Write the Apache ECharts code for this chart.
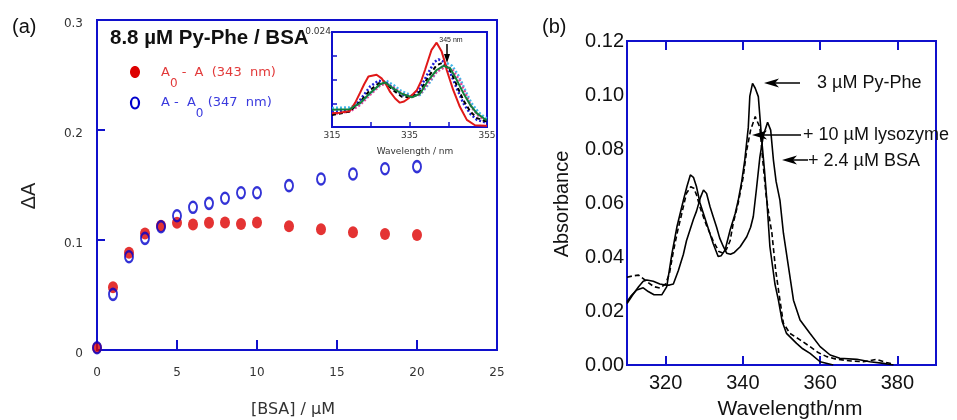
<!DOCTYPE html>
<html>
<head>
<meta charset="utf-8">
<script src="https://cdn.jsdelivr.net/npm/echarts@6.0.0/dist/echarts.min.js"></script>
<style>
html,body{margin:0;padding:0;background:#fff;}
#c{width:957px;height:420px;}
</style>
</head>
<body>
<div id="c"></div>
<script>
// ---------- Panel (a): titration data ----------
const bsaConc = [0, 1, 2, 3, 4, 5, 6, 7, 8, 9, 10, 12, 14, 16, 18, 20];
const dA343 = [0.002, 0.057, 0.0885, 0.106, 0.113, 0.1157, 0.114, 0.1157, 0.116, 0.1145, 0.116, 0.1124, 0.1097, 0.107, 0.1055, 0.1045];
const dA347 = [0.002, 0.0506, 0.0848, 0.1015, 0.112, 0.122, 0.1297, 0.1333, 0.1379, 0.143, 0.143, 0.1494, 0.1555, 0.16, 0.1648, 0.1667];
const aXTicks = [0, 5, 10, 15, 20, 25];

// ---------- Inset spectra (wavelength nm, absorbance) ----------
const insetRed = [[315,0.0103],[317,0.0104],[319.6,0.0107],[321,0.0121],[322.2,0.0137],[323.3,0.0152],[324.4,0.0165],[326.5,0.0168],[327.8,0.0162],[329,0.0151],[330,0.0139],[331.3,0.0128],[332.5,0.0121],[333.6,0.0123],[334.7,0.0128],[336,0.0136],[336.9,0.0142],[338,0.0157],[339,0.0176],[339.9,0.0194],[340.7,0.0210],[342,0.0222],[343.3,0.0207],[344,0.0192],[344.6,0.0176],[346.3,0.0142],[348,0.0114],[349.8,0.0092],[351.9,0.0083],[354.5,0.0082],[355,0.0082]];
const insetBlue = [[315,0.0105],[319.6,0.0108],[322.2,0.0125],[324.8,0.0148],[327,0.0158],[328.7,0.0156],[330.8,0.0145],[333,0.0134],[335.6,0.0131],[337.7,0.0145],[339.9,0.0172],[341.5,0.0190],[342.5,0.0194],[343.8,0.0190],[345.5,0.0172],[347.2,0.0145],[348.9,0.0120],[350.7,0.0102],[352.4,0.0092],[354.5,0.0088],[355,0.0087]];
const insetBlack = [[315,0.0100],[319.6,0.0106],[322.2,0.0122],[324.8,0.0142],[327.4,0.0155],[328.7,0.0155],[330.8,0.0142],[333,0.0131],[335.6,0.0130],[337.7,0.0140],[339.9,0.0165],[342,0.0184],[343.5,0.0188],[345.5,0.0176],[347.2,0.0150],[348.9,0.0125],[350.7,0.0106],[352.4,0.0095],[354.5,0.0090],[355,0.0089]];
const insetCyan = [[315,0.0112],[319.6,0.0113],[322.2,0.0120],[324.8,0.0136],[327.4,0.0152],[329,0.0158],[331,0.0150],[333,0.0140],[335.6,0.0133],[337.7,0.0134],[339.9,0.0152],[342,0.0173],[344.5,0.0188],[346,0.0183],[347.8,0.0165],[349.5,0.0140],[351,0.0120],[352.8,0.0105],[354.5,0.0096],[355,0.0095]];
const insetPink = [[315,0.0102],[319.6,0.0106],[322.2,0.0117],[324.8,0.0134],[327.4,0.0150],[329,0.0153],[331,0.0146],[333,0.0136],[335.6,0.0131],[337.7,0.0135],[339.9,0.0155],[342,0.0173],[344.5,0.0182],[346,0.0177],[347.8,0.0160],[349.5,0.0136],[351,0.0113],[352.8,0.0099],[354.5,0.0090],[355,0.0089]];
const insetGreen = [[315,0.0109],[319.6,0.0110],[322.2,0.0120],[324.8,0.0137],[327.4,0.0152],[328.7,0.0155],[330.8,0.0145],[333,0.0136],[335.6,0.0130],[337.7,0.0136],[339.9,0.0159],[342,0.0176],[343.8,0.0183],[345.5,0.0179],[347.2,0.0159],[348.9,0.0137],[350.7,0.0117],[352.4,0.0103],[354.5,0.0093],[355,0.0092]];
const insetXLabels = [315, 335, 355];
const insetYLabels = [0.024];

// ---------- Panel (b): spectra (wavelength nm, absorbance) ----------
const specPyPhe = [[310,0.0234],[311,0.0255],[312.5,0.0278],[314.2,0.0286],[315.5,0.0272],[317,0.026],[319,0.026],[320.3,0.029],[321.6,0.041],[322.9,0.051],[324.6,0.061],[325.5,0.066],[326.4,0.0704],[327.2,0.0695],[328,0.066],[328.9,0.060],[330.6,0.0525],[332.3,0.045],[333.6,0.0402],[334.4,0.0405],[335.4,0.0426],[336.7,0.050],[338,0.056],[338.8,0.061],[339.7,0.068],[340.5,0.076],[341.4,0.088],[341.8,0.0996],[342.5,0.1043],[343.2,0.1025],[344,0.0994],[344.9,0.083],[345.6,0.072],[346.2,0.061],[347,0.0438],[348.3,0.030],[349.2,0.024],[350.2,0.016],[351.3,0.0117],[353.9,0.008],[355.5,0.006],[357.4,0.0043],[360,0.0012],[363.4,0.0]];
const specLysozyme = [[310,0.0325],[311.5,0.033],[313,0.0333],[314.2,0.032],[315.5,0.0305],[317,0.029],[318.5,0.0285],[320,0.030],[321,0.034],[322,0.042],[323,0.049],[324,0.055],[325.4,0.0636],[326.5,0.066],[327.3,0.0655],[328,0.063],[329,0.058],[330.5,0.052],[332.3,0.046],[333.8,0.042],[334.9,0.0414],[335.8,0.043],[336.7,0.046],[337.5,0.0525],[338.8,0.060],[340.1,0.0697],[341,0.0796],[342,0.087],[343.2,0.092],[344.4,0.088],[345.2,0.075],[346,0.063],[346.8,0.055],[347.5,0.049],[348.5,0.035],[349.6,0.024],[350.5,0.0154],[352.2,0.0117],[354.8,0.0093],[357.4,0.0068],[359.5,0.0046],[361.7,0.0031],[364.3,0.0021],[368,0.0015],[371.2,0.0012],[374.6,0.0021],[377.2,0.0009],[379,0.0004]];
const specBSA = [[310,0.0228],[311.5,0.026],[313,0.029],[314.2,0.031],[315.1,0.0315],[316.8,0.031],[318.5,0.030],[320,0.0296],[321,0.0296],[322,0.030],[323.3,0.035],[324.6,0.041],[325.4,0.046],[326.3,0.050],[327.2,0.054],[328,0.057],[329,0.062],[329.8,0.0648],[330.6,0.0635],[331.5,0.0586],[332.3,0.055],[333.2,0.051],[334,0.047],[334.9,0.044],[335.8,0.0414],[336.8,0.041],[337.8,0.0417],[339.3,0.0438],[341,0.0475],[342,0.051],[342.7,0.055],[343.5,0.065],[344.4,0.077],[345.3,0.085],[346.4,0.0899],[347.2,0.087],[347.9,0.076],[348.6,0.068],[349.6,0.061],[350.5,0.0488],[351.8,0.0364],[353.1,0.024],[354.8,0.0167],[357.4,0.0117],[360,0.0068],[362.6,0.0037],[365.1,0.0025],[369.5,0.0021],[372.9,0.0012],[376.4,0.0006],[379,0.0]];
const bXTicks = [320, 340, 360, 380];

// ---------- styling ----------
const BLUE = '#1010cc';
const SANS = 'Liberation Sans, Arial, sans-serif';
const DV = 'DejaVu Sans, Verdana, sans-serif';
const ELLIPSE = 'path://M0,-1A1,1,0,1,1,0,1A1,1,0,1,1,0,-1Z';

const chart = echarts.init(document.getElementById('c'), null, {renderer: 'canvas'});

function pairs(xs, ys) { return xs.map((x, i) => [x, ys[i]]); }

const option = {
  animation: false,
  backgroundColor: '#fff',
  grid: [
    {left: 97, top: 20, width: 400, height: 330, show: true, borderColor: BLUE, borderWidth: 2, containLabel: false},
    {left: 627, top: 41, width: 309, height: 324, show: true, borderColor: BLUE, borderWidth: 2, containLabel: false},
    {left: 332, top: 32, width: 155, height: 95, show: true, borderColor: BLUE, borderWidth: 2, backgroundColor: 'rgba(255,255,255,0)', containLabel: false}
  ],
  xAxis: [
    { gridIndex: 0, type: 'value', min: 0, max: 25, interval: 5,
      axisLine: {show: true, lineStyle: {color: BLUE, width: 2}},
      axisTick: {show: true, inside: true, length: 10, lineStyle: {color: BLUE, width: 2}},
      axisLabel: {margin: 17, fontFamily: DV, fontSize: 12, color: '#333', customValues: aXTicks},
      splitLine: {show: false} },
    { gridIndex: 1, type: 'value', min: 310, max: 390,
      axisLine: {show: true, lineStyle: {color: BLUE, width: 2}},
      axisTick: {show: true, inside: true, length: 9, lineStyle: {color: BLUE, width: 2}, customValues: bXTicks},
      axisLabel: {margin: 8, fontFamily: SANS, fontSize: 20, color: '#111', customValues: bXTicks},
      splitLine: {show: false} },
    { gridIndex: 1, type: 'value', position: 'top', min: 310, max: 390,
      axisLine: {show: true, lineStyle: {color: BLUE, width: 2}},
      axisTick: {show: true, inside: true, length: 9, lineStyle: {color: BLUE, width: 2}, customValues: bXTicks},
      axisLabel: {show: false},
      splitLine: {show: false} },
    { gridIndex: 2, type: 'value', min: 315, max: 355, interval: 10,
      axisLine: {show: true, lineStyle: {color: BLUE, width: 2}},
      axisTick: {show: true, inside: true, length: 5, lineStyle: {color: BLUE, width: 1.5}},
      axisLabel: {margin: 4, fontFamily: DV, fontSize: 9, color: '#333', customValues: insetXLabels},
      splitLine: {show: false} }
  ],
  yAxis: [
    { gridIndex: 0, type: 'value', min: 0, max: 0.3, interval: 0.1,
      axisLine: {show: true, lineStyle: {color: BLUE, width: 2}},
      axisTick: {show: true, inside: true, length: 8, lineStyle: {color: BLUE, width: 2}},
      axisLabel: {margin: 14, fontFamily: DV, fontSize: 12, color: '#333', verticalAlign: 'top', lineHeight: 8},
      splitLine: {show: false} },
    { gridIndex: 1, type: 'value', min: 0, max: 0.12, interval: 0.02,
      axisLine: {show: true, lineStyle: {color: BLUE, width: 2}},
      axisTick: {show: false},
      axisLabel: {margin: 3, fontFamily: SANS, fontSize: 20, color: '#111', formatter: v => v.toFixed(2)},
      splitLine: {show: false} },
    { gridIndex: 2, type: 'value', min: 0.008, max: 0.024, interval: 0.004,
      axisLine: {show: true, lineStyle: {color: BLUE, width: 2}},
      axisTick: {show: true, inside: true, length: 5, lineStyle: {color: BLUE, width: 1.5}},
      axisLabel: {margin: 1, fontFamily: DV, fontSize: 9, color: '#333', customValues: insetYLabels, formatter: v => v.toFixed(3), verticalAlign: 'middle', padding: [0, 0, 4, 0]},
      splitLine: {show: false} }
  ],
  series: [
    { name: 'A0 - A (343 nm)', type: 'scatter', xAxisIndex: 0, yAxisIndex: 0,
      data: pairs(bsaConc, dA343), symbol: ELLIPSE, symbolKeepAspect: false, symbolSize: [10, 12],
      itemStyle: {color: '#dd0000'}, clip: false },
    { name: 'A - A0 (347 nm)', type: 'scatter', xAxisIndex: 0, yAxisIndex: 0,
      data: pairs(bsaConc, dA347), symbol: ELLIPSE, symbolKeepAspect: false, symbolSize: [8, 11],
      itemStyle: {color: 'rgba(0,0,0,0)', borderColor: '#0000cc', borderWidth: 2.2}, clip: false },

    { name: 'inset cyan', type: 'line', xAxisIndex: 3, yAxisIndex: 2, data: insetCyan, showSymbol: false,
      lineStyle: {color: '#3fb6ea', width: 2.5, type: [2, 2]} },
    { name: 'inset pink', type: 'line', xAxisIndex: 3, yAxisIndex: 2, data: insetPink, showSymbol: false,
      lineStyle: {color: '#e2449c', width: 2.5, type: [2, 2]} },
    { name: 'inset blue', type: 'line', xAxisIndex: 3, yAxisIndex: 2, data: insetBlue, showSymbol: false,
      lineStyle: {color: '#1e1ed8', width: 2.5, type: [2, 2]} },
    { name: 'inset black', type: 'line', xAxisIndex: 3, yAxisIndex: 2, data: insetBlack, showSymbol: false,
      lineStyle: {color: '#000', width: 2, type: [4, 3]} },
    { name: 'inset red', type: 'line', xAxisIndex: 3, yAxisIndex: 2, data: insetRed, showSymbol: false,
      lineStyle: {color: '#e01818', width: 2} },
    { name: 'inset green', type: 'line', xAxisIndex: 3, yAxisIndex: 2, data: insetGreen, showSymbol: false,
      lineStyle: {color: '#12803a', width: 2} },

    { name: '3 µM Py-Phe', type: 'line', xAxisIndex: 1, yAxisIndex: 1, data: specPyPhe, showSymbol: false,
      lineStyle: {color: '#000', width: 1.6} },
    { name: '+ 10 µM lysozyme', type: 'line', xAxisIndex: 1, yAxisIndex: 1, data: specLysozyme, showSymbol: false,
      lineStyle: {color: '#000', width: 1.6, type: [5, 3]} },
    { name: '+ 2.4 µM BSA', type: 'line', xAxisIndex: 1, yAxisIndex: 1, data: specBSA, showSymbol: false,
      lineStyle: {color: '#000', width: 1.6} }
  ],
  graphic: [
    {type: 'text', x: 12, y: 27, style: {text: '(a)', fontFamily: SANS, fontSize: 20, fill: '#111', verticalAlign: 'middle'}},
    {type: 'text', x: 542, y: 27, style: {text: '(b)', fontFamily: SANS, fontSize: 20, fill: '#111', verticalAlign: 'middle'}},
    {type: 'text', x: 110, y: 38, z: 10, style: {text: '8.8 µM Py-Phe / BSA', fontFamily: SANS, fontWeight: 'bold', fontSize: 20.5, fill: '#111', verticalAlign: 'middle'}},
    {type: 'text', x: 29, y: 196, rotation: Math.PI / 2, style: {text: 'ΔA', fontFamily: SANS, fontSize: 20, fill: '#222', align: 'center', verticalAlign: 'middle'}},
    {type: 'text', x: 293, y: 410, style: {text: '[BSA] / µM', fontFamily: DV, fontSize: 16, fill: '#333', align: 'center', verticalAlign: 'middle'}},
    // legend
    {type: 'ellipse', shape: {cx: 135, cy: 72, rx: 5, ry: 6}, style: {fill: '#dd0000'}},
    {type: 'ellipse', shape: {cx: 135, cy: 103, rx: 4, ry: 5.5}, style: {fill: 'none', stroke: '#0000cc', lineWidth: 2.2}},
    {type: 'text', x: 161, y: 66.5, style: {
      text: '{n|A}{s|0}{n| -  A  (343  nm)}', verticalAlign: 'top',
      rich: {n: {fontFamily: DV, fontSize: 13, fill: '#e23a3a', verticalAlign: 'top', lineHeight: 15},
             s: {fontFamily: DV, fontSize: 12, fill: '#e23a3a', verticalAlign: 'top', padding: [11, 0, 0, 0], lineHeight: 13}}}},
    {type: 'text', x: 161, y: 96.5, style: {
      text: '{n|A -  A}{s|0}{n| (347  nm)}', verticalAlign: 'top',
      rich: {n: {fontFamily: DV, fontSize: 13, fill: '#3a3ade', verticalAlign: 'top', lineHeight: 15},
             s: {fontFamily: DV, fontSize: 12, fill: '#3a3ade', verticalAlign: 'top', padding: [11, 0, 0, 0], lineHeight: 13}}}},
    // inset annotations
    {type: 'text', x: 415, y: 152, style: {text: 'Wavelength / nm', fontFamily: DV, fontSize: 9, fill: '#333', align: 'center', verticalAlign: 'middle'}},
    {type: 'text', x: 451, y: 40, z: 20, style: {text: '345 nm', fontFamily: SANS, fontSize: 7, fill: '#222', align: 'center', verticalAlign: 'middle'}},
    {type: 'line', z: 20, shape: {x1: 447, y1: 44, x2: 447, y2: 56}, style: {stroke: '#000', lineWidth: 1.5}},
    {type: 'polygon', z: 20, shape: {points: [[447, 63], [444, 54], [450, 54]]}, style: {fill: '#000'}},
    // panel b labels
    {type: 'text', x: 562, y: 204, rotation: Math.PI / 2, style: {text: 'Absorbance', fontFamily: SANS, fontSize: 20, fill: '#111', align: 'center', verticalAlign: 'middle'}},
    {type: 'text', x: 790, y: 409, style: {text: 'Wavelength/nm', fontFamily: SANS, fontSize: 21, fill: '#111', align: 'center', verticalAlign: 'middle'}},
    {type: 'text', x: 817, y: 83, style: {text: '3 µM Py-Phe', fontFamily: SANS, fontSize: 18, fill: '#111', verticalAlign: 'middle'}},
    {type: 'text', x: 803, y: 135, style: {text: '+ 10 µM lysozyme', fontFamily: SANS, fontSize: 18, fill: '#111', verticalAlign: 'middle'}},
    {type: 'text', x: 808, y: 161, style: {text: '+ 2.4 µM BSA', fontFamily: SANS, fontSize: 18, fill: '#111', verticalAlign: 'middle'}},
    {type: 'line', shape: {x1: 800, y1: 83, x2: 772, y2: 83}, style: {stroke: '#000', lineWidth: 1.5}},
    {type: 'polygon', shape: {points: [[764, 83], [779, 78.5], [775, 83], [779, 87.5]]}, style: {fill: '#000'}},
    {type: 'line', shape: {x1: 801, y1: 135, x2: 760, y2: 135}, style: {stroke: '#000', lineWidth: 1.5}},
    {type: 'polygon', shape: {points: [[752, 135], [767, 130.5], [763, 135], [767, 139.5]]}, style: {fill: '#000'}},
    {type: 'line', shape: {x1: 808, y1: 160, x2: 790, y2: 160}, style: {stroke: '#000', lineWidth: 1.5}},
    {type: 'polygon', shape: {points: [[782, 160], [797, 155.5], [793, 160], [797, 164.5]]}, style: {fill: '#000'}}
  ]
};
chart.setOption(option);
</script>
</body>
</html>
